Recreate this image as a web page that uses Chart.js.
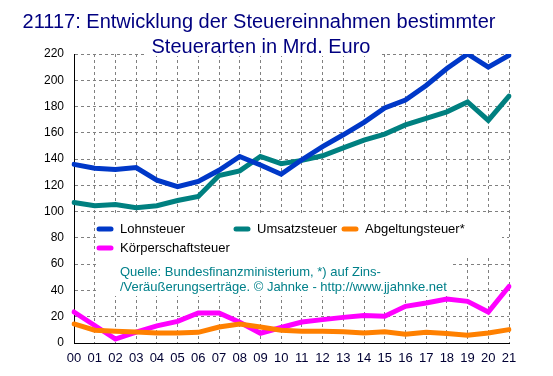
<!DOCTYPE html>
<html>
<head>
<meta charset="utf-8">
<script src="https://cdn.jsdelivr.net/npm/chart.js@4/dist/chart.umd.min.js"></script>
<style>
  body { margin: 0; background: #fff; }
  canvas { display: block; }
</style>
</head>
<body>
<canvas id="chart" width="553" height="376"></canvas>
<script>
// Data (Mrd. Euro)
const years = ['00','01','02','03','04','05','06','07','08','09','10','11','12','13','14','15','16','17','18','19','20','21'];
const lohnsteuer = [136, 133, 132, 133.5, 124, 119, 123, 131.5, 142, 135.5, 128.5, 139.5, 149.5, 158.5, 168, 179, 185, 196, 209, 220, 210, 219];
const umsatzsteuer = [107, 104.5, 105.5, 103, 104.5, 108.5, 111.5, 127.5, 131, 142, 136.5, 139, 142.5, 148.5, 154.5, 159, 166, 171, 176, 183.5, 169.5, 188];
const abgeltungsteuer = [14.5, 9.7, 8.9, 8.4, 7.6, 7.6, 8.1, 12.2, 14.5, 12.2, 9.7, 8.9, 8.9, 8.6, 7.6, 8.6, 6.6, 8.1, 7.3, 5.9, 7.6, 10.2];
const koerperschaftsteuer = [23.6, 13.3, 3, 8.3, 13, 16.5, 22.9, 22.9, 15.8, 7.4, 11.8, 16, 17.8, 19.5, 21, 20.3, 27.9, 30.4, 33.5, 31.7, 23.6, 43];
const yTicks = { min: 0, max: 220, step: 20 };

const titleLines = ['21117: Entwicklung der Steuereinnahmen bestimmter', 'Steuerarten in Mrd. Euro'];
const sourceLines = ['Quelle: Bundesfinanzministerium, *) auf Zins-', '/Veräußerungserträge. © Jahnke - http://www.jjahnke.net'];

const FONT = "'Liberation Sans', Arial, sans-serif";

function series(label, data, color) {
    return {
        label: label,
        data: data,
        borderColor: color,
        backgroundColor: color,
        borderWidth: 5,
        pointRadius: 0,
        tension: 0,
        borderCapStyle: 'round',
        fill: false
    };
}

// white boxes, hand drawn legend, source note and title
const decorations = {
    id: 'decorations',
    beforeDatasetsDraw(chart) {
        const ctx = chart.ctx;
        ctx.save();
        ctx.fillStyle = '#fff';
        ctx.fillRect(96, 214, 406, 44);   // behind legend
        ctx.fillRect(96, 258, 354, 38);   // behind source note
        ctx.fillRect(146, 36, 236, 20);   // behind second title line
        ctx.restore();
    },
    afterDraw(chart) {
        const ctx = chart.ctx;
        ctx.save();

        // title
        ctx.fillStyle = '#000080';
        ctx.font = '20px ' + FONT;
        ctx.textAlign = 'center';
        ctx.textBaseline = 'middle';
        ctx.fillText(titleLines[0], 259, 22);
        ctx.fillText(titleLines[1], 261, 47);

        // legend
        const slots = [[97, 229], [234, 229], [342, 229], [97, 248]];
        ctx.font = '13px ' + FONT;
        ctx.textAlign = 'left';
        chart.data.datasets.forEach((ds, i) => {
            const [x, y] = slots[i];
            ctx.strokeStyle = ds.borderColor;
            ctx.lineWidth = 5;
            ctx.lineCap = 'round';
            ctx.beginPath();
            ctx.moveTo(x + 2, y);
            ctx.lineTo(x + 14, y);
            ctx.stroke();
            ctx.fillStyle = '#000';
            ctx.fillText(ds.label, x + 23, y);
        });

        // source
        ctx.fillStyle = '#00808a';
        ctx.fillText(sourceLines[0], 120, 272);
        ctx.fillText(sourceLines[1], 120, 287);
        ctx.restore();
    }
};

new Chart(document.getElementById('chart'), {
    type: 'line',
    data: {
        labels: years,
        datasets: [
            series('Lohnsteuer', lohnsteuer, '#0038c8'),
            series('Umsatzsteuer', umsatzsteuer, '#008080'),
            series('Abgeltungsteuer*', abgeltungsteuer, '#ff8000'),
            series('Körperschaftsteuer', koerperschaftsteuer, '#ff00ff')
        ]
    },
    options: {
        responsive: false,
        animation: false,
        devicePixelRatio: 1,
        layout: { padding: { top: 54, right: 44, left: 0, bottom: 0 } },
        plugins: {
            legend: { display: false },
            title: { display: false },
            tooltip: { enabled: false }
        },
        scales: {
            x: {
                offset: false,
                grid: { color: '#808080', drawTicks: false },
                border: { display: true, color: '#000', width: 1, dash: [3, 3] },
                ticks: {
                    color: '#000033',
                    font: { family: FONT, size: 13 },
                    padding: 8,
                    maxRotation: 0,
                    autoSkip: false
                },
                afterFit(scale) { scale.height = 33; }
            },
            y: {
                min: yTicks.min,
                max: yTicks.max,
                grid: { color: '#808080', drawTicks: false },
                border: { display: true, color: '#000', width: 1, dash: [3, 3] },
                ticks: {
                    stepSize: yTicks.step,
                    color: '#000',
                    font: { family: FONT, size: 12 },
                    padding: 10
                },
                afterFit(scale) { scale.width = 74; }
            }
        }
    },
    plugins: [decorations]
});
</script>
</body>
</html>
